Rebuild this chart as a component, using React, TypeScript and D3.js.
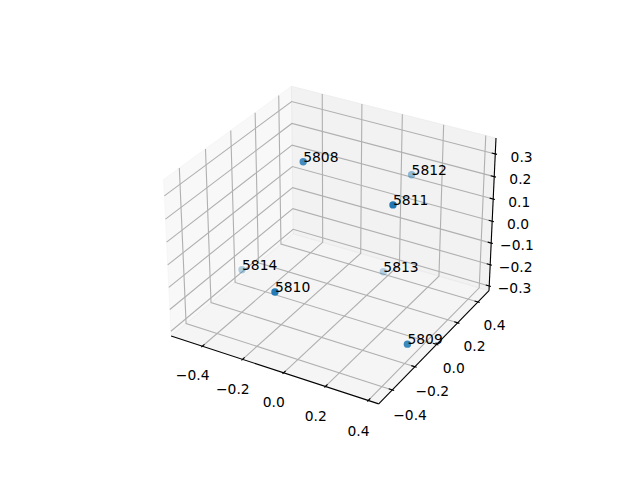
import { useEffect, useRef } from "react";
import * as d3 from "d3";

const ids = ["5808", "5809", "5810", "5811", "5812", "5813", "5814"];
const xValues = [-0.167, 0.417, -0.054, 0.287, 0.058, -0.027, -0.552];
const yValues = [-0.057, -0.212, -0.486, -0.113, 0.498, 0.407, 0.051];
const zValues = [0.35, -0.223, 0.006, 0.302, 0.118, -0.315, -0.284];

const xTicks = [-0.4, -0.2, 0.0, 0.2, 0.4];
const yTicks = [-0.4, -0.2, 0.0, 0.2, 0.4];
const zTicks = [-0.3, -0.2, -0.1, 0.0, 0.1, 0.2, 0.3];

const xLim = [-0.558, 0.448];
const yLim = [-0.517, 0.511];
const zLim = [-0.322, 0.369];

type P3 = [number, number, number];

// same camera as a default mplot3d view: elev 30, azim -60, dist 10
const elev = (30 * Math.PI) / 180;
const azim = (-60 * Math.PI) / 180;
const dist = 10;
const halfXY = 0.5952;
const halfZ = 0.4464;

const w: P3 = [Math.cos(elev) * Math.cos(azim), Math.cos(elev) * Math.sin(azim), Math.sin(elev)];
const u: P3 = [-Math.sin(azim), Math.cos(azim), 0];
const v: P3 = [
  w[1] * u[2] - w[2] * u[1],
  w[2] * u[0] - w[0] * u[2],
  w[0] * u[1] - w[1] * u[0],
];

const xBox = d3.scaleLinear().domain(xLim).range([-halfXY, halfXY]);
const yBox = d3.scaleLinear().domain(yLim).range([-halfXY, halfXY]);
const zBox = d3.scaleLinear().domain(zLim).range([-halfZ, halfZ]);

const screenX = d3.scaleLinear().domain([-0.095, 0.09]).range([143.2, 512.8]);
const screenY = d3.scaleLinear().domain([-0.095, 0.09]).range([427.2, 57.6]);

const dot = (a: P3, b: P3) => a[0] * b[0] + a[1] * b[1] + a[2] * b[2];

const toBox = (p: P3): P3 => [xBox(p[0]), yBox(p[1]), zBox(p[2])];
const depth = (p: P3) => dot(toBox(p), w);

const project = (p: P3): [number, number] => {
  const b = toBox(p);
  const d = dist - dot(b, w);
  return [screenX(dot(b, u) / d), screenY(dot(b, v) / d)];
};

const fmt = (t: number, digits: number) => t.toFixed(digits).replace("-", "\u2212");

export default function App() {
  const ref = useRef<SVGSVGElement>(null);

  useEffect(() => {
    const svg = d3.select(ref.current);
    svg.selectAll("*").remove();

    const [x0, x1] = xLim;
    const [y0, y1] = yLim;
    const [z0, z1] = zLim;
    const dx = (x1 - x0) / 12;
    const dy = (y1 - y0) / 12;
    const dz = (z1 - z0) / 12;

    const path = d3.line();

    const panes: { pts: P3[]; color: string }[] = [
      { pts: [[x0, y0, z0], [x0, y1, z0], [x0, y1, z1], [x0, y0, z1]], color: "rgba(242,242,242,0.5)" },
      { pts: [[x0, y1, z0], [x1, y1, z0], [x1, y1, z1], [x0, y1, z1]], color: "rgba(230,230,230,0.5)" },
      { pts: [[x0, y0, z0], [x1, y0, z0], [x1, y1, z0], [x0, y1, z0]], color: "rgba(236,236,236,0.5)" },
    ];
    svg.append("g")
      .selectAll("path")
      .data(panes)
      .join("path")
      .attr("d", (d) => path(d.pts.map(project)) + "Z")
      .attr("fill", (d) => d.color)
      .attr("stroke", (d) => d.color);

    const gridLines: P3[][] = [
      ...xTicks.map((t): P3[] => [[t, y0, z0], [t, y1, z0], [t, y1, z1]]),
      ...yTicks.map((t): P3[] => [[x1, t, z0], [x0, t, z0], [x0, t, z1]]),
      ...zTicks.map((t): P3[] => [[x0, y0, t], [x0, y1, t], [x1, y1, t]]),
    ];
    svg.append("g")
      .selectAll("path")
      .data(gridLines)
      .join("path")
      .attr("d", (d) => path(d.map(project)))
      .attr("fill", "none")
      .attr("stroke", "#b0b0b0")
      .attr("stroke-width", 1.11);

    const axisLines: P3[][] = [
      [[x0, y0, z0], [x1, y0, z0]],
      [[x1, y0, z0], [x1, y1, z0]],
      [[x1, y1, z0], [x1, y1, z1]],
    ];
    const tickIn = 0.2;
    const tickOut = 0.1;
    const tickMarks: P3[][] = [
      ...xTicks.map((t): P3[] => [[t, y0 + tickIn * dy, z0], [t, y0 - tickOut * dy, z0]]),
      ...yTicks.map((t): P3[] => [[x1 - tickIn * dx, t, z0], [x1 + tickOut * dx, t, z0]]),
      ...zTicks.map((t): P3[] => [[x1 - tickIn * dx, y1, t], [x1 + tickOut * dx, y1, t]]),
    ];
    svg.append("g")
      .selectAll("path")
      .data([...axisLines, ...tickMarks])
      .join("path")
      .attr("d", (d) => path(d.map(project)))
      .attr("fill", "none")
      .attr("stroke", "#000")
      .attr("stroke-width", 1.11);

    const tickLabels: { at: P3; text: string }[] = [
      ...xTicks.map((t) => ({ at: [t, y0 - 0.95 * dy, z0 - 1.6 * dz] as P3, text: fmt(t, 1) })),
      ...yTicks.map((t) => ({ at: [x1 + 1.0 * dx, t, z0 - 1.47 * dz] as P3, text: fmt(t, 1) })),
      ...zTicks.map((t) => ({ at: [x1 + 1.1 * dx, y1 + 0.8 * dy, t - 0.3 * dz] as P3, text: fmt(t, 1) })),
    ];
    svg.append("g")
      .selectAll("text")
      .data(tickLabels)
      .join("text")
      .attr("x", (d) => project(d.at)[0])
      .attr("y", (d) => project(d.at)[1])
      .attr("text-anchor", "middle")
      .attr("dominant-baseline", "central")
      .attr("font-family", "DejaVu Sans")
      .attr("font-size", 13.89)
      .text((d) => d.text);

    const points: P3[] = ids.map((_, i) => [xValues[i], yValues[i], zValues[i]]);
    const depthExtent = d3.extent(points.map(depth)) as [number, number];
    const alpha = d3.scaleLinear().domain(depthExtent).range([0.3, 1]);

    // far points go first so the near ones sit on top
    const order = d3.range(points.length).sort((a, b) => depth(points[a]) - depth(points[b]));
    svg.append("g")
      .selectAll("circle")
      .data(order)
      .join("circle")
      .attr("cx", (i) => project(points[i])[0])
      .attr("cy", (i) => project(points[i])[1])
      .attr("r", 3.7)
      .attr("fill", "#1f77b4")
      .attr("fill-opacity", (i) => alpha(depth(points[i])));

    svg.append("g")
      .selectAll("text")
      .data(ids)
      .join("text")
      .attr("x", (_, i) => project(points[i])[0])
      .attr("y", (_, i) => project(points[i])[1])
      .attr("font-family", "DejaVu Sans")
      .attr("font-size", 13.89)
      .text((d) => d);
  }, []);

  return (
    <svg
      ref={ref}
      width={640}
      height={480}
      style={{ position: "absolute", left: 0, top: 0, background: "#fff" }}
    />
  );
}
